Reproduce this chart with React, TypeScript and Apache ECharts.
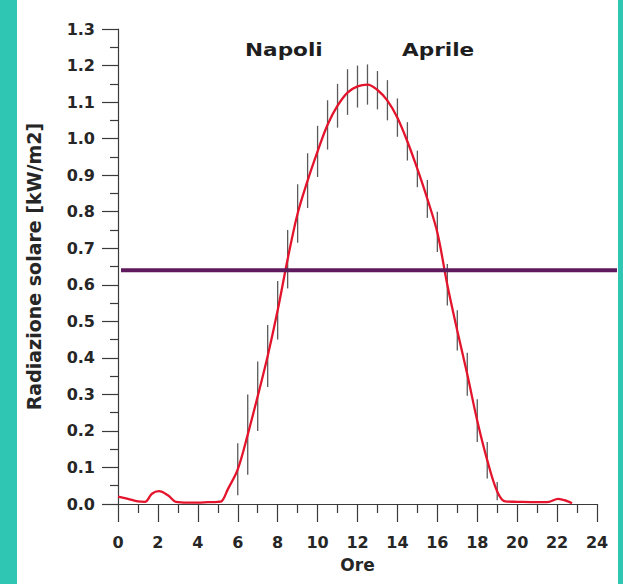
import React, { useEffect, useRef } from 'react';
import * as echarts from 'echarts';

// Red curve: hours and solar radiation (kW/m2)
const hours = [0, 0.5, 1.0, 1.35, 1.7, 2.05, 2.5, 2.9, 3.5, 4.0, 4.5, 5.0, 5.2, 5.5, 6.0, 6.5, 7.0, 7.5, 8.0, 8.5, 9.0, 9.5, 10.0, 10.5, 11.0, 11.5, 12.0, 12.5, 13.0, 13.5, 14.0, 14.5, 15.0, 15.5, 16.0, 16.5, 17.0, 17.5, 18.0, 18.5, 19.0, 19.4, 20.0, 21.0, 21.6, 22.05, 22.5, 22.75];
const radiation = [0.020, 0.014, 0.007, 0.006, 0.028, 0.035, 0.024, 0.006, 0.004, 0.004, 0.005, 0.006, 0.008, 0.04, 0.095, 0.19, 0.295, 0.405, 0.53, 0.67, 0.795, 0.885, 0.965, 1.038, 1.09, 1.126, 1.143, 1.148, 1.133, 1.104, 1.057, 0.992, 0.917, 0.835, 0.743, 0.6, 0.474, 0.355, 0.228, 0.12, 0.034, 0.007, 0.006, 0.005, 0.006, 0.014, 0.008, 0.002];

// Vertical error bars
const errHours = [6, 6.5, 7, 7.5, 8, 8.5, 9, 9.5, 10, 10.5, 11, 11.5, 12, 12.5, 13, 13.5, 14, 14.5, 15, 15.5, 16, 16.5, 17, 17.5, 18, 18.5, 19];
const errLow = [0.024, 0.08, 0.20, 0.32, 0.45, 0.59, 0.715, 0.81, 0.895, 0.97, 1.03, 1.065, 1.085, 1.093, 1.08, 1.05, 1.005, 0.94, 0.867, 0.783, 0.69, 0.543, 0.42, 0.296, 0.17, 0.07, 0.01];
const errHigh = [0.166, 0.30, 0.39, 0.49, 0.61, 0.75, 0.875, 0.96, 1.035, 1.105, 1.15, 1.19, 1.20, 1.203, 1.185, 1.16, 1.11, 1.045, 0.967, 0.887, 0.80, 0.657, 0.53, 0.414, 0.287, 0.17, 0.06];

// Horizontal reference level
const referenceLevel = 0.64;

const labelCity = 'Napoli';
const labelMonth = 'Aprile';

export default function App() {
  const ref = useRef<HTMLDivElement>(null);

  useEffect(() => {
    document.body.style.margin = '0';
    const chart = echarts.init(ref.current!, null, { renderer: 'svg' });
    const font = 'DejaVu Sans';
    const axisColor = '#3a3a3a';
    const textColor = '#262626';

    chart.setOption({
      animation: false,
      backgroundColor: '#ffffff',
      grid: { left: 118, right: 26, top: 29, bottom: 80 },
      xAxis: {
        type: 'value',
        min: 0,
        max: 24,
        interval: 2,
        name: 'Ore',
        nameLocation: 'middle',
        nameGap: 52,
        nameTextStyle: { fontFamily: font, fontWeight: 'bold', fontSize: 17, color: textColor },
        axisLine: { lineStyle: { color: axisColor, width: 1.2 } },
        axisTick: { length: 18, lineStyle: { color: axisColor, width: 1.2 } },
        minorTick: { show: true, splitNumber: 2, length: 9, lineStyle: { color: axisColor, width: 1.2 } },
        axisLabel: { margin: 30, fontFamily: font, fontWeight: 'bold', fontSize: 16, color: textColor },
        splitLine: { show: false },
        minorSplitLine: { show: false },
      },
      yAxis: {
        type: 'value',
        min: 0,
        max: 1.3,
        interval: 0.1,
        name: 'Radiazione solare [kW/m2]',
        nameLocation: 'middle',
        nameGap: 75,
        nameTextStyle: { fontFamily: font, fontWeight: 'bold', fontSize: 19, color: textColor },
        axisLine: { show: true, lineStyle: { color: axisColor, width: 1.2 } },
        axisTick: { show: true, length: 16, lineStyle: { color: axisColor, width: 1.2 } },
        minorTick: { show: true, splitNumber: 2, length: 8, lineStyle: { color: axisColor, width: 1.2 } },
        axisLabel: {
          margin: 23,
          fontFamily: font,
          fontWeight: 'bold',
          fontSize: 16,
          color: textColor,
          formatter: (v: number) => v.toFixed(1),
        },
        splitLine: { show: false },
        minorSplitLine: { show: false },
      },
      series: [
        {
          type: 'custom',
          z: 2,
          data: errHours.map((h, i) => [h, errLow[i], errHigh[i]]),
          encode: { x: 0, y: [1, 2] },
          renderItem: (params: any, api: any) => {
            const x = api.value(0);
            const p1 = api.coord([x, api.value(1)]);
            const p2 = api.coord([x, api.value(2)]);
            return {
              type: 'line',
              shape: { x1: p1[0], y1: p1[1], x2: p2[0], y2: p2[1] },
              style: { stroke: '#5a5a5a', lineWidth: 1.3 },
            };
          },
        },
        {
          type: 'line',
          z: 3,
          data: hours.map((h, i) => [h, radiation[i]]),
          smooth: 0.35,
          showSymbol: false,
          symbol: 'none',
          lineStyle: { color: '#e3142c', width: 2.3 },
        },
      ],
    });

    const yRef = chart.convertToPixel({ yAxisIndex: 0 }, referenceLevel) as number;
    const xStart = (chart.convertToPixel({ xAxisIndex: 0 }, 0) as number) + 3;

    chart.setOption({
      graphic: [
        { type: 'rect', shape: { x: 0, y: 0, width: 17, height: 584 }, style: { fill: '#2fc6b4' }, z: 100 },
        { type: 'rect', shape: { x: 618, y: 0, width: 5, height: 584 }, style: { fill: '#2fc6b4' }, z: 100 },
        {
          type: 'line',
          shape: { x1: xStart, y1: yRef, x2: 617, y2: yRef },
          style: { stroke: '#5e1a5c', lineWidth: 4 },
          z: 100,
        },
        {
          type: 'text',
          x: 245,
          y: 50,
          scaleX: 1.2,
          style: { text: labelCity, fontFamily: font, fontWeight: 'bold', fontSize: 18, fill: '#1e1e1e', verticalAlign: 'middle' },
          z: 100,
        },
        {
          type: 'text',
          x: 402,
          y: 50,
          scaleX: 1.2,
          style: { text: labelMonth, fontFamily: font, fontWeight: 'bold', fontSize: 18, fill: '#1e1e1e', verticalAlign: 'middle' },
          z: 100,
        },
      ],
    });

    return () => chart.dispose();
  }, []);

  return <div ref={ref} style={{ width: 623, height: 584 }} />;
}
